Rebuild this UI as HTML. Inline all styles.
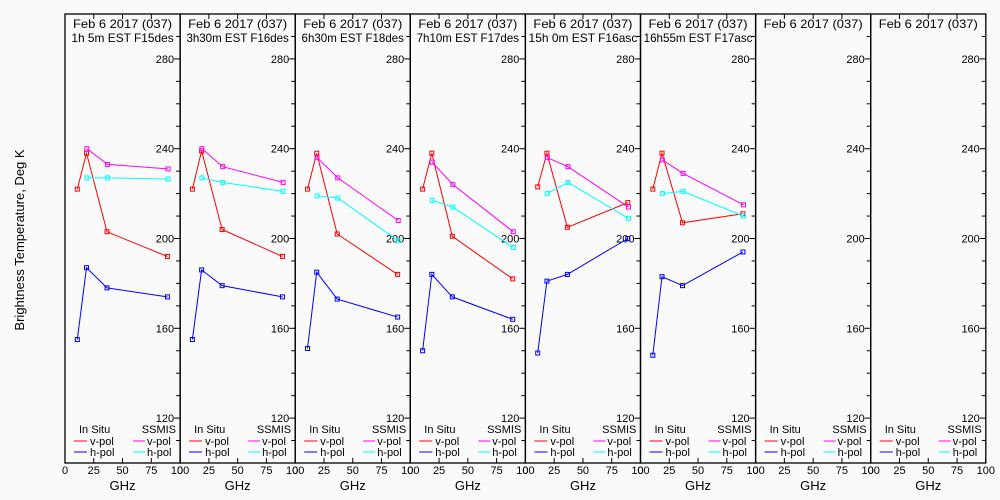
<!DOCTYPE html>
<html><head><meta charset="utf-8"><style>
body{margin:0;background:#fafafa}
svg{display:block;font-family:"Liberation Sans",sans-serif}
</style></head><body>
<svg id="c" width="1000" height="500" viewBox="0 0 1000 500">
<rect width="1000" height="500" fill="#fafafa"/>
<text x="24" y="240" font-size="13" text-anchor="middle" transform="rotate(-90 24 240)">Brightness Temperature, Deg K</text>
</svg>
<script>
const titles2 = ["1h 5m EST F15des","3h30m EST F16des","6h30m EST F18des","7h10m EST F17des","15h 0m EST F16asc","16h55m EST F17asc","",""];
const insituFreq = [10.7, 18.7, 36.5, 89];
const ssmisFreq = [19, 37, 89.5];
const redV = [[222,238,203,192],[222,239,204,192],[222,238,202,184],[222,238,201,182],[223,238,205,216],[222,238,207,211]];
const blueH = [[155,187,178,174],[155,186,179,174],[151,185,173,165],[150,184,174,164],[149,181,184,200],[148,183,179,194]];
const magV = [[240,233,231],[240,232,225],[236,227,208],[234,224,203],[236,232,214],[235,229,215]];
const cyanH = [[227,227,226.5],[227,225,221],[219,218,199],[217,214,196],[220,225,209],[220,221,210]];
const yTicks = [120,160,200,240,280];
const xTicks = [0,25,50,75,100];

const svg = document.getElementById('c');
const NS = 'http://www.w3.org/2000/svg';
const X0 = 65, PW = 115.1, TOP = 14, BOT = 463;
function mk(tag, attrs, parent){const e=document.createElementNS(NS,tag);for(const k in attrs)e.setAttribute(k,attrs[k]);(parent||svg).appendChild(e);return e;}
function yS(v){return TOP + (300 - v) * (BOT - TOP) / 200;}
function xS(p, f){return X0 + p*PW + f/100*PW;}

for (let p=0;p<8;p++){
  const g = mk('g',{});
  
  
  const L = X0+p*PW, R = L+PW, cx=(L+R)/2;
  const fr = mk('rect',{x:L,y:TOP,width:PW,height:BOT-TOP,fill:'none',stroke:'#000','stroke-width':1.3},g);
  
  
  for(let v=110; v<=290; v+=10){
    const maj = v%40===0;
    mk('line',{x1:R,x2:R-(maj?6:4),y1:yS(v),y2:yS(v),stroke:'#000'},g);
  }
  yTicks.forEach(v=>{
    const t=mk('text',{x:R-6,y:yS(v)+4,'font-size':11,'text-anchor':'end'},g);
    t.textContent=v;
    
    
  });
  xTicks.forEach(f=>{
    const x=xS(p,f);
    mk('line',{x1:x,x2:x,y1:BOT,y2:BOT-5,stroke:'#000'},g);
    mk('line',{x1:x,x2:x,y1:TOP,y2:TOP+5,stroke:'#000'},g);
    const t=mk('text',{x:x,y:BOT+11,'font-size':11,'text-anchor':'middle'},g);
    t.textContent=f;
    
    
  });
  const gx=mk('text',{x:cx,y:490,'font-size':13,'text-anchor':'middle'},g);
  gx.textContent='GHz';
  
  
  const t1=mk('text',{x:cx,y:28,'font-size':12,'text-anchor':'middle',textLength:99,lengthAdjust:'spacingAndGlyphs'},g);
  t1.textContent='Feb 6 2017 (037)';
  
  
  if(titles2[p]){
    const t2=mk('text',{x:cx,y:42,'font-size':12,'text-anchor':'middle',textLength:titles2[p].length*6.4,lengthAdjust:'spacingAndGlyphs'},g);
    t2.textContent=titles2[p];
    
    
  }
  const lg=mk('g',{},g);
  
  
  const a=mk('text',{x:L+14,y:433,'font-size':11},lg); a.textContent='In Situ';
  const b=mk('text',{x:L+111,y:433,'font-size':11,'text-anchor':'end'},lg); b.textContent='SSMIS';
  [['v-pol','#f00','#f0f',441],['h-pol','#00f','#0ff',452]].forEach(r=>{
    mk('line',{x1:L+9,x2:L+22,y1:r[3],y2:r[3],stroke:r[1]},lg);
    const u=mk('text',{x:L+25,y:r[3]+4,'font-size':11},lg); u.textContent=r[0];
    mk('line',{x1:L+68,x2:L+80,y1:r[3],y2:r[3],stroke:r[2]},lg);
    const w=mk('text',{x:L+82,y:r[3]+4,'font-size':11},lg); w.textContent=r[0];
  });
  if(p<6){
    const series=[[insituFreq,redV[p],'#f00','insitu-vpol'],[insituFreq,blueH[p],'#00f','insitu-hpol'],[ssmisFreq,magV[p],'#f0f','ssmis-vpol'],[ssmisFreq,cyanH[p],'#0ff','ssmis-hpol']];
    series.forEach(s=>{
      const pts=s[0].map((f,i)=>xS(p,f).toFixed(1)+','+yS(s[1][i]).toFixed(1)).join(' ');
      const pl=mk('polyline',{points:pts,fill:'none',stroke:s[2],'stroke-width':1},g);
      
      
      s[0].forEach((f,i)=>{
        const m=mk('rect',{x:xS(p,f)-2,y:yS(s[1][i])-2,width:4,height:4,fill:'none',stroke:s[2]},g);
        
        
      });
    });
  }
}
</script>
</body></html>
